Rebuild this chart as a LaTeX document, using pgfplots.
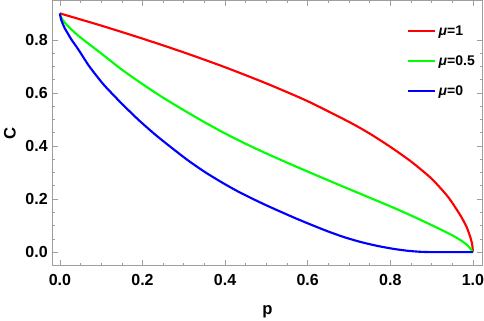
\documentclass[border=0pt]{standalone}
\usepackage{fontspec}
\setmainfont{Liberation Sans}
\usepackage{pgfplots}
\pgfplotsset{compat=1.18}
\definecolor{framegray}{gray}{0.62}

\begin{document}
\begin{tikzpicture}
\begin{axis}[
  scale only axis, width=323pt, height=199pt,
  xmin=-0.0194, xmax=1.024, ymin=-0.0517, ymax=0.949,
  xtick={0,0.2,0.4,0.6,0.8,1}, ytick={0,0.2,0.4,0.6,0.8},
  minor x tick num=3, minor y tick num=3,
  tick align=inside, major tick length=4.5pt, minor tick length=2.25pt,
  axis line style={framegray, line width=0.6pt},
  every tick/.style={framegray, line width=0.5pt},
  /pgf/number format/.cd, fixed, fixed zerofill, precision=1, assume math mode=true,
  /pgfplots/.cd,
  tick label style={font=\fontsize{12}{14}\selectfont\bfseries, black, inner sep=0pt},
  xticklabel style={yshift=-6.5pt},
  yticklabel style={xshift=-3pt},
  xlabel={p}, ylabel={C},
  label style={font=\fontsize{12.5}{14}\selectfont\bfseries},
  xlabel style={at={(axis description cs:0.5,0)}, anchor=base, inner sep=1.8pt, yshift=-36.75pt},
  ylabel style={at={(axis description cs:0,0.5)}, anchor=center, inner sep=3pt, yshift=31.5pt},
  legend style={draw=none, fill=none, overlay, inner sep=0pt,
    at={(rel axis cs:0.824,0.917)}, anchor=north west,
    font=\fontsize{10.5}{12}\selectfont\bfseries, row sep=9.7pt},
  legend cell align=left,
  legend image code/.code={\draw[#1] (0pt,0pt) -- (20pt,0pt);},
  every axis plot/.append style={smooth, tension=0.4, line width=1.6pt},
]
\addplot[red] coordinates {
(0,0.9) (0.1,0.854) (0.2,0.805) (0.3,0.753) (0.4,0.697) (0.5,0.636)
(0.6,0.569) (0.7,0.491) (0.75,0.447) (0.8,0.397) (0.85,0.342) (0.9,0.277) (0.94,0.208)
(0.97,0.138) (0.985,0.094) (0.995,0.051) (0.999,0.022) (1,0)
};
\addlegendentry{\textit{μ}=1}
\addplot[green] coordinates {
(0,0.9) (0.002,0.888) (0.006,0.877) (0.012,0.865) (0.02,0.851) (0.028,0.839)
(0.045,0.815) (0.069,0.786) (0.09,0.761) (0.109,0.738)
(0.149,0.689) (0.19,0.644) (0.23,0.602) (0.27,0.563) (0.311,0.525) (0.351,0.489)
(0.392,0.454) (0.432,0.422) (0.472,0.392) (0.512,0.3635) (0.552,0.336) (0.592,0.309)
(0.632,0.2825) (0.672,0.256) (0.712,0.23) (0.752,0.204) (0.792,0.178) (0.832,0.151)
(0.872,0.1225) (0.912,0.093) (0.952,0.062) (0.977,0.038) (0.99,0.021) (1,0)
};
\addlegendentry{\textit{μ}=0.5}
\addplot[blue] coordinates {
(0,0.9) (0.002,0.882) (0.006,0.864) (0.012,0.843) (0.02,0.822) (0.028,0.801)
(0.045,0.763) (0.069,0.705) (0.09,0.662) (0.109,0.626)
(0.149,0.561) (0.19,0.499) (0.23,0.444) (0.27,0.394) (0.311,0.345) (0.351,0.302)
(0.392,0.263) (0.432,0.228) (0.472,0.197) (0.508,0.1707) (0.565,0.1314) (0.606,0.1048)
(0.646,0.08) (0.686,0.0576) (0.726,0.0392) (0.767,0.024) (0.807,0.0125) (0.84,0.0055)
(0.87,0.0015) (0.9,0) (0.95,0) (1,0)
};
\addlegendentry{\textit{μ}=0}
\end{axis}
\end{tikzpicture}
\end{document}
